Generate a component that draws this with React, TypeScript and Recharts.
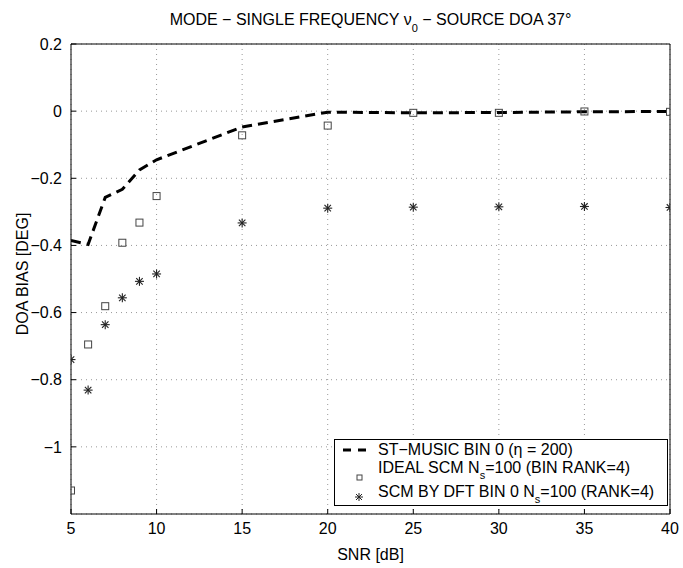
import React from 'react'
import {
    ComposedChart,
    Line,
    XAxis,
    YAxis,
    CartesianGrid,
    Legend
} from 'recharts'

// SNR points [dB]
const snr = [5, 6, 7, 8, 9, 10, 15, 20, 25, 30, 35, 40]

// DOA bias [deg]
const stMusic = [-0.385, -0.397, -0.257, -0.233, -0.175, -0.145, -0.047, -0.003, -0.005, -0.004, -0.002, -0.001]
const idealScm = [-1.13, -0.695, -0.581, -0.392, -0.332, -0.253, -0.072, -0.043, -0.005, -0.005, -0.001, -0.002]
const scmDft = [-0.74, -0.831, -0.636, -0.556, -0.507, -0.485, -0.333, -0.289, -0.286, -0.285, -0.284, -0.287]

const xTicks = [5, 10, 15, 20, 25, 30, 35, 40]
const yTicks = [-1, -0.8, -0.6, -0.4, -0.2, 0, 0.2]

const rows = snr.map((s, i) => ({
    snr: s,
    stMusic: stMusic[i],
    idealScm: idealScm[i],
    scmDft: scmDft[i]
}))

const FONT = '"Liberation Sans", Arial, Helvetica, sans-serif'

const formatTick = (v: number) => {
    if (v === 0) return '0'
    return (v < 0 ? '\u2212' : '') + String(Math.abs(v))
}

const SquareDot = (props: any) => {
    const { cx, cy } = props
    if (cx == null || cy == null) return null
    return (
        <rect
            x={cx - 3.5}
            y={cy - 3.5}
            width={7}
            height={7}
            fill="none"
            stroke="#444"
            strokeWidth={1}
        />
    )
}

const StarDot = (props: any) => {
    const { cx, cy } = props
    if (cx == null || cy == null) return null
    const r = 4.5
    const d = r * 0.72
    return (
        <g stroke="#222" strokeWidth={1.1}>
            <line x1={cx - r} y1={cy} x2={cx + r} y2={cy} />
            <line x1={cx} y1={cy - r} x2={cx} y2={cy + r} />
            <line x1={cx - d} y1={cy - d} x2={cx + d} y2={cy + d} />
            <line x1={cx - d} y1={cy + d} x2={cx + d} y2={cy - d} />
        </g>
    )
}

const LegendBox = () => {
    const text: React.CSSProperties = {
        position: 'absolute',
        left: 43,
        fontFamily: FONT,
        fontSize: 16,
        lineHeight: '12px',
        whiteSpace: 'nowrap',
        color: '#000'
    }
    const sub: React.CSSProperties = { fontSize: 11, position: 'relative', top: 6 }
    return (
        <div
            style={{
                position: 'relative',
                width: 334,
                height: 67,
                border: '1px solid #000',
                background: '#fff',
                boxSizing: 'border-box'
            }}
        >
            <svg width={40} height={66} style={{ position: 'absolute', left: 0, top: 0 }}>
                <line x1={8} y1={10} x2={31} y2={10} stroke="#000" strokeWidth={3} strokeDasharray="8 7" />
                <rect x={22} y={35} width={5} height={5} fill="none" stroke="#444" strokeWidth={1} />
                <g stroke="#222" strokeWidth={1}>
                    <line x1={20} y1={57} x2={28} y2={57} />
                    <line x1={24} y1={53} x2={24} y2={61} />
                    <line x1={21} y1={54} x2={27} y2={60} />
                    <line x1={21} y1={60} x2={27} y2={54} />
                </g>
            </svg>
            <div style={{ ...text, top: 3.5 }}>ST{'\u2212'}MUSIC BIN 0 ({'\u03b7'} = 200)</div>
            <div style={{ ...text, top: 21.5 }}>
                IDEAL SCM N<span style={sub}>s</span>=100 (BIN RANK=4)
            </div>
            <div style={{ ...text, top: 45.5 }}>
                SCM BY DFT BIN 0 N<span style={sub}>s</span>=100 (RANK=4)
            </div>
        </div>
    )
}

export default function App() {
    return (
        <div style={{ position: 'absolute', left: 0, top: 0, width: 683, height: 568, background: '#fff' }}>
            <div
                style={{
                    position: 'absolute',
                    left: 0,
                    width: 741,
                    top: 12,
                    textAlign: 'center',
                    fontFamily: FONT,
                    fontSize: 16,
                    lineHeight: '16px',
                    color: '#000',
                    whiteSpace: 'nowrap'
                }}
            >
                MODE {'\u2212'} SINGLE FREQUENCY {'\u03bd'}
                <span style={{ fontSize: 11, position: 'relative', top: 7 }}>0</span> {'\u2212'} SOURCE DOA 37{'\u00b0'}
            </div>

            <div
                style={{
                    position: 'absolute',
                    left: 23,
                    top: 274,
                    transform: 'translate(-50%, -50%) rotate(-90deg)',
                    fontFamily: FONT,
                    fontSize: 16,
                    lineHeight: '16px',
                    color: '#000',
                    whiteSpace: 'nowrap'
                }}
            >
                DOA BIAS [DEG]
            </div>

            <div
                style={{
                    position: 'absolute',
                    left: 0,
                    width: 741,
                    top: 547,
                    textAlign: 'center',
                    fontFamily: FONT,
                    fontSize: 16,
                    lineHeight: '16px',
                    color: '#000'
                }}
            >
                SNR [dB]
            </div>

            <ComposedChart
                width={683}
                height={568}
                data={rows}
                margin={{ top: 43, right: 12, left: 0, bottom: 0 }}
                style={{ position: 'absolute', left: 0, top: 0 }}
            >
                <CartesianGrid
                    stroke="#999"
                    strokeDasharray="1 4"
                    strokeWidth={1}
                />
                <XAxis
                    dataKey="snr"
                    type="number"
                    domain={[5, 40]}
                    ticks={xTicks}
                    allowDataOverflow
                    height={54}
                    tickSize={-5}
                    tickMargin={14}
                    axisLine={{ stroke: '#000', strokeWidth: 1 }}
                    tickLine={{ stroke: '#000' }}
                    tick={{ fontSize: 16, fontFamily: FONT, fill: '#000' }}
                    interval={0}
                />
                <XAxis
                    xAxisId="top"
                    dataKey="snr"
                    type="number"
                    orientation="top"
                    domain={[5, 40]}
                    ticks={xTicks}
                    allowDataOverflow
                    height={1}
                    tickSize={-5}
                    tick={false}
                    axisLine={{ stroke: '#000', strokeWidth: 1 }}
                    tickLine={{ stroke: '#000' }}
                />
                <YAxis
                    type="number"
                    domain={[-1.2, 0.2]}
                    ticks={yTicks}
                    allowDataOverflow
                    width={71}
                    tickSize={-5}
                    tickMargin={14}
                    tickFormatter={formatTick}
                    axisLine={{ stroke: '#000', strokeWidth: 1 }}
                    tickLine={{ stroke: '#000' }}
                    tick={{ fontSize: 16, fontFamily: FONT, fill: '#000' }}
                    interval={0}
                />
                <YAxis
                    yAxisId="right"
                    type="number"
                    orientation="right"
                    domain={[-1.2, 0.2]}
                    ticks={yTicks}
                    allowDataOverflow
                    width={1}
                    tickSize={-5}
                    tick={false}
                    axisLine={{ stroke: '#000', strokeWidth: 1 }}
                    tickLine={{ stroke: '#000' }}
                />
                <Legend
                    layout="vertical"
                    align="center"
                    verticalAlign="middle"
                    content={() => <LegendBox />}
                    wrapperStyle={{ position: 'absolute', left: 334, top: 439, width: 334, height: 67 }}
                />
                <Line
                    dataKey="stMusic"
                    type="linear"
                    stroke="#000"
                    strokeWidth={3}
                    strokeDasharray="10 6"
                    dot={false}
                    activeDot={false}
                    isAnimationActive={false}
                />
                <Line
                    dataKey="idealScm"
                    type="linear"
                    stroke="none"
                    dot={(p: any) => <SquareDot key={`sq-${p.index}`} {...p} />}
                    activeDot={false}
                    isAnimationActive={false}
                />
                <Line
                    dataKey="scmDft"
                    type="linear"
                    stroke="none"
                    dot={(p: any) => <StarDot key={`st-${p.index}`} {...p} />}
                    activeDot={false}
                    isAnimationActive={false}
                />
            </ComposedChart>
        </div>
    )
}
